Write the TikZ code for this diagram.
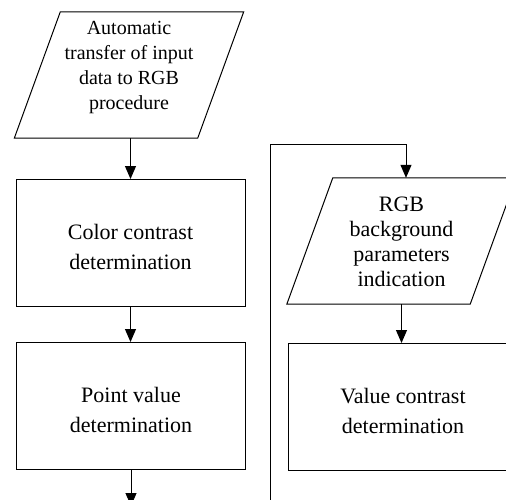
\documentclass[tikz,border=0pt]{standalone}
\usepackage{fontspec}
\setmainfont{Liberation Serif}
\usetikzlibrary{arrows.meta}
\begin{document}
\begin{tikzpicture}[x=1pt,y=-1pt,
  line/.style={draw=black, line width=1pt},
  procbox/.style={line, rectangle, minimum width=229pt, minimum height=127pt, inner sep=0pt},
  iobody/.style={rectangle, minimum width=183pt, minimum height=126pt, inner sep=0pt},
  lbl/.style={align=center, font=\fontsize{22}{29.5}\selectfont, inner sep=0pt},
  lblp/.style={align=center, font=\fontsize{22}{25}\selectfont, inner sep=0pt},
  lblps/.style={align=center, font=\fontsize{20}{25}\selectfont, inner sep=0pt},
  arr/.style={line, -{Triangle[length=13pt,width=11pt]}}
]
\useasboundingbox (0,0) rectangle (506,499);
\clip (0,0) rectangle (506,499);
% left column
\node[iobody] (p1) at (129,75) {};
\draw[line] ([xshift=23pt]p1.north west) -- ([xshift=23pt]p1.north east)
  -- ([xshift=-23pt]p1.south east) -- ([xshift=-23pt]p1.south west) -- cycle;
\node[lblps] (p1t) at (129,67.9) {Automatic\\transfer of input\\data to RGB\\procedure};
\node[procbox] (b1) at (130.5,243) {};
\node[lbl] (b1t) at (130.5,247.2) {Color contrast\\determination};
\node[procbox] (b2) at (131,406) {};
\node[lbl] (b2t) at (131,410) {Point value\\determination};
% right column
\node[iobody] (p2) at (401.5,241) {};
\draw[line] ([xshift=23pt]p2.north west) -- ([xshift=23pt]p2.north east)
  -- ([xshift=-23pt]p2.south east) -- ([xshift=-23pt]p2.south west) -- cycle;
\node[lblp] (p2t) at (401.5,241.9) {RGB\\background\\parameters\\indication};
\node[procbox] (b3) at (403,407) {};
\node[lbl] (b3t) at (403,410.8) {Value contrast\\determination};
% connectors
\coordinate (end) at (131,506);
\coordinate (lb) at (270.5,500);
\coordinate (lt) at (270.5,144);
\coordinate (lt2) at (406,144);
\draw[arr] (p1.south -| b1.north) -- (b1.north);
\draw[arr] (b1.south) -- (b1.south |- b2.north);
\draw[arr] (b2.south) -- (end);
\draw[arr] (lb) -- (lt) -- (lt2) -- (lt2 |- p2.north);
\draw[arr] (p2.south) -- (p2.south |- b3.north);
\end{tikzpicture}
\end{document}
